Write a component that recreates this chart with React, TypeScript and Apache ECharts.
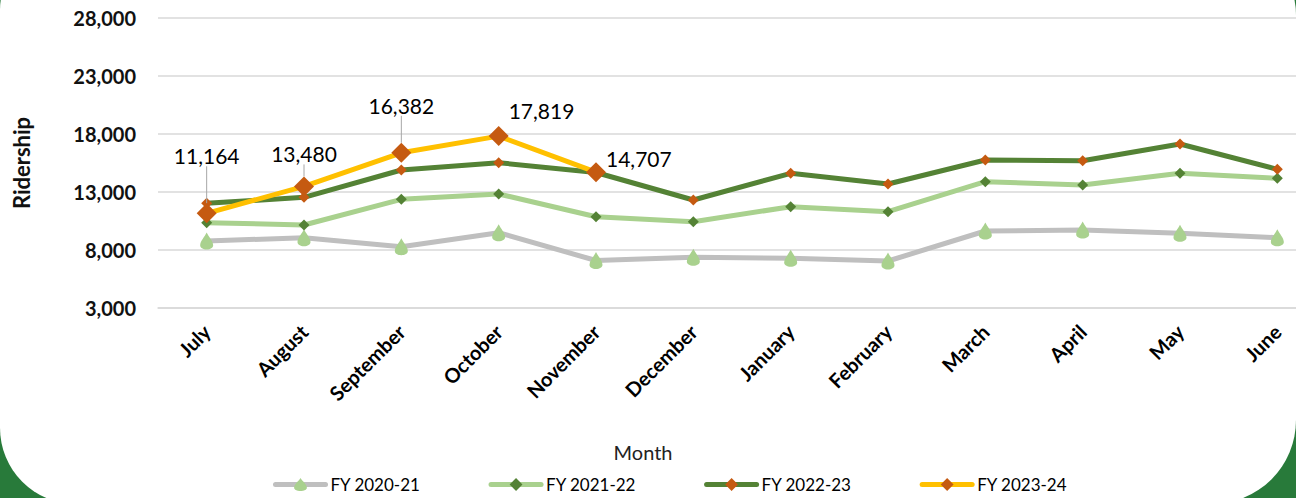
import React, { useEffect, useRef } from "react";
import * as echarts from "echarts";

const months = ["July", "August", "September", "October", "November", "December", "January", "February", "March", "April", "May", "June"];
const fy2021 = [8776, 9060, 8284, 9491, 7095, 7371, 7284, 7052, 9638, 9724, 9440, 9060];
const fy2122 = [10353, 10155, 12371, 12828, 10871, 10440, 11733, 11302, 13888, 13603, 14612, 14181];
const fy2223 = [12026, 12543, 14897, 15526, 14681, 12310, 14612, 13690, 15759, 15698, 17138, 14957];
const fy2324 = [11164, 13480, 16382, 17819, 14707, null, null, null, null, null, null, null];
const seriesNames = ["FY 2020-21", "FY 2021-22", "FY 2022-23", "FY 2023-24"];

// label styling (not data)
const labelPos = ["top", "top", "top", "right", "right"];
const labelDx = [0, 0, 0, -5, -5];
const labelDy = [-32, -7, -22, -26, -14];
const labelLeader = [true, true, true, false, false];

const FONT = "Lato, 'Noto Sans', sans-serif";
const dropPath = "path://M5,0 C6.5,4 10,8 10,12 C10,14.5 7.8,16 5,16 C2.2,16 0,14.5 0,12 C0,8 3.5,4 5,0 Z";

export default function App() {
  const ref = useRef<HTMLDivElement>(null);
  useEffect(() => {
    const chart = echarts.init(ref.current!, null, { renderer: "svg" });
    const fmt = (v: number) => v.toLocaleString("en-US");
    chart.setOption({
      animation: false,
      textStyle: { fontFamily: FONT },
      grid: { left: 158, width: 1168, top: 18, height: 290, containLabel: false },
      legend: {
        data: seriesNames,
        left: 273,
        top: 476,
        padding: 0,
        itemWidth: 50,
        itemHeight: 16,
        itemGap: 68,
        lineStyle: { width: 5 },
        textStyle: { fontSize: 17, color: "#000", fontFamily: FONT },
      },
      xAxis: {
        type: "category",
        data: months,
        boundaryGap: true,
        axisLine: { lineStyle: { color: "#d9d9d9", width: 1.5 } },
        axisTick: { show: false },
        axisLabel: { rotate: 45, fontSize: 20, fontWeight: "bold", color: "#000", margin: 20, interval: 0, fontFamily: FONT },
        name: "Month",
        nameLocation: "middle",
        nameGap: 134,
        nameTextStyle: { fontSize: 20, color: "#222", padding: [0, 198, 0, 0], fontFamily: FONT },
      },
      yAxis: {
        type: "value",
        min: 3000,
        max: 28000,
        interval: 5000,
        axisLine: { show: false },
        axisTick: { show: false },
        splitLine: { lineStyle: { color: "#d9d9d9", width: 1.5 } },
        axisLabel: { formatter: fmt, fontSize: 20, fontWeight: "bold", color: "#111", margin: 22, fontFamily: FONT },
        name: "Ridership",
        nameLocation: "middle",
        nameRotate: 90,
        nameGap: 126,
        nameTextStyle: { fontSize: 22, fontWeight: "bold", color: "#111", fontFamily: FONT },
      },
      labelLayout: (params: any) => {
        if (params.seriesIndex !== 3) return {};
        const i = params.dataIndex;
        return { dx: labelDx[i] || 0, dy: labelDy[i] || 0 };
      },
      series: [
        {
          name: seriesNames[0],
          type: "line",
          data: fy2021,
          symbol: dropPath,
          symbolSize: [13, 17],
          itemStyle: { color: "#a9d18e" },
          lineStyle: { color: "#bfbfbf", width: 5, cap: "round", join: "round" },
          z: 2,
        },
        {
          name: seriesNames[1],
          type: "line",
          data: fy2122,
          symbol: "diamond",
          symbolSize: 11,
          itemStyle: { color: "#548235" },
          lineStyle: { color: "#a9d18e", width: 5, cap: "round", join: "round" },
          z: 3,
        },
        {
          name: seriesNames[2],
          type: "line",
          data: fy2223,
          symbol: "diamond",
          symbolSize: 11,
          itemStyle: { color: "#c55a11" },
          lineStyle: { color: "#548235", width: 5, cap: "round", join: "round" },
          z: 4,
        },
        {
          name: seriesNames[3],
          type: "line",
          data: fy2324.map((v, i) =>
            v == null
              ? null
              : {
                  value: v,
                  label: { position: labelPos[i] },
                  labelLine: { show: labelLeader[i] },
                }
          ),
          symbol: "diamond",
          symbolSize: 20,
          itemStyle: { color: "#c55a11" },
          lineStyle: { color: "#ffc000", width: 5, cap: "round", join: "round" },
          label: {
            show: true,
            formatter: (p: any) => fmt(p.value),
            fontSize: 21,
            color: "#000",
            fontFamily: FONT,
          },
          labelLine: { show: true, lineStyle: { color: "#a6a6a6", width: 1 } },
          z: 5,
        },
      ],
    });
    return () => chart.dispose();
  }, []);

  return (
    <div style={{ position: "fixed", left: 0, top: 0, width: 1296, height: 498, overflow: "hidden", background: "#287a3a" }}>
      <div
        style={{
          position: "absolute",
          left: 0,
          top: -60,
          width: 1296,
          height: 564,
          borderRadius: "70px 75px 84px 76px",
          background: "#fff",
        }}
      />
      <div ref={ref} style={{ position: "absolute", left: 0, top: 0, width: 1360, height: 498 }} />
    </div>
  );
}
